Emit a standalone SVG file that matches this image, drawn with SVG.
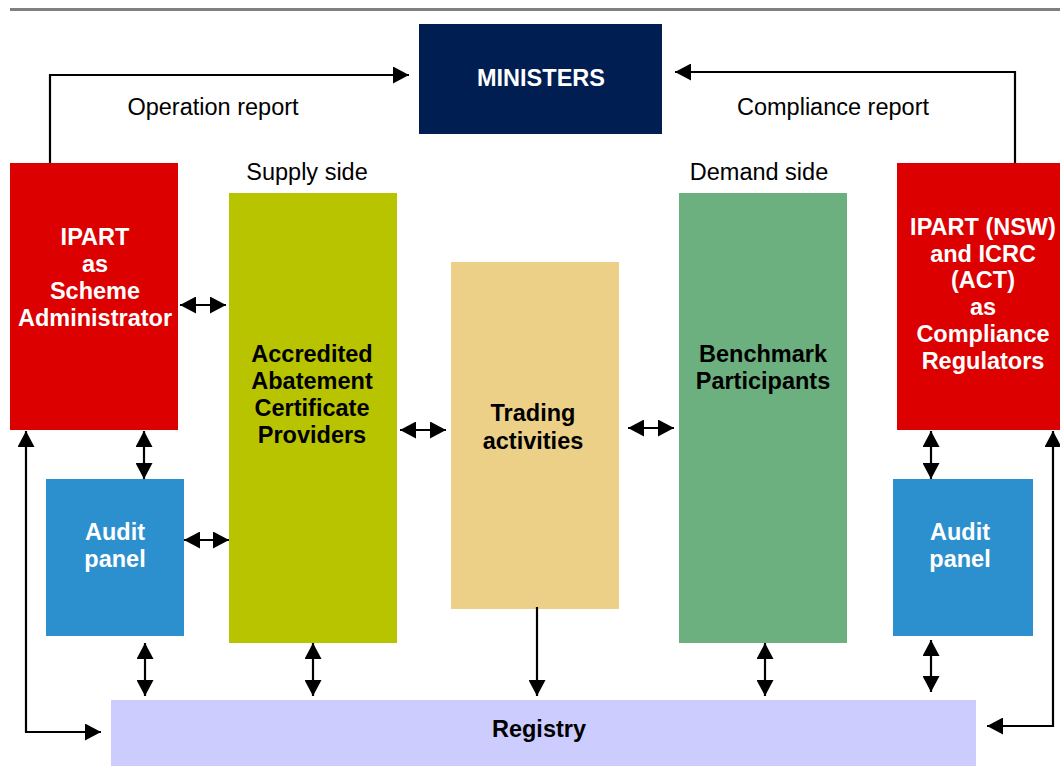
<svg xmlns="http://www.w3.org/2000/svg" width="1060" height="776" viewBox="0 0 1060 776">
  <style>
    .bold { font-family: "Liberation Sans", Arial, sans-serif; font-weight: bold; font-size: 23.5px; text-anchor: middle; }
    .plain { font-family: "Liberation Sans", Arial, sans-serif; font-size: 23.5px; text-anchor: middle; fill: #000; }
    .white { fill: #ffffff; }
    .dark { fill: #000000; }
    .conn { fill: none; stroke: #000; stroke-width: 2.2; }
  </style>
  <defs>
    <marker id="head" viewBox="0 0 16 17" markerWidth="16" markerHeight="17" refX="16" refY="8.5" markerUnits="userSpaceOnUse" orient="auto-start-reverse">
      <path d="M0,0 L16,8.5 L0,17 z" fill="#000"/>
    </marker>
  </defs>

  <rect width="1060" height="776" fill="#ffffff"/>
  <!-- header rule -->
  <line x1="10" y1="9.5" x2="1060" y2="9.5" stroke="#808080" stroke-width="3"/>

  <g id="ministers">
    <rect x="419" y="24" width="243" height="110" fill="#001E52"/>
    <text class="bold white" x="541" y="86">MINISTERS</text>
  </g>

  <g id="ipart-admin">
    <rect x="10" y="163" width="168" height="267" fill="#DC0000"/>
    <text class="bold white" x="95" y="245">IPART</text>
    <text class="bold white" x="95" y="272">as</text>
    <text class="bold white" x="95" y="299">Scheme</text>
    <text class="bold white" x="95" y="326">Administrator</text>
  </g>

  <g id="ipart-regulators">
    <rect x="897" y="163" width="172" height="267" fill="#DC0000"/>
    <text class="bold white" x="983" y="235">IPART (NSW)</text>
    <text class="bold white" x="983" y="262">and ICRC</text>
    <text class="bold white" x="983" y="288">(ACT)</text>
    <text class="bold white" x="983" y="315">as</text>
    <text class="bold white" x="983" y="342">Compliance</text>
    <text class="bold white" x="983" y="369">Regulators</text>
  </g>

  <g id="supply-side">
    <text class="plain" x="307" y="180">Supply side</text>
    <rect x="229" y="193" width="168" height="450" fill="#B8C400"/>
    <text class="bold dark" x="312" y="362">Accredited</text>
    <text class="bold dark" x="312" y="389">Abatement</text>
    <text class="bold dark" x="312" y="416">Certificate</text>
    <text class="bold dark" x="312" y="443">Providers</text>
  </g>

  <g id="trading">
    <rect x="451" y="262" width="168" height="347" fill="#EDD087"/>
    <text class="bold dark" x="533" y="421">Trading</text>
    <text class="bold dark" x="533" y="449">activities</text>
  </g>

  <g id="demand-side">
    <text class="plain" x="759" y="180">Demand side</text>
    <rect x="679" y="193" width="168" height="450" fill="#6BB07E"/>
    <text class="bold dark" x="763" y="362">Benchmark</text>
    <text class="bold dark" x="763" y="389">Participants</text>
  </g>

  <g id="audit-left">
    <rect x="46" y="479" width="138" height="157" fill="#2D90CE"/>
    <text class="bold white" x="115" y="540">Audit</text>
    <text class="bold white" x="115" y="567">panel</text>
  </g>

  <g id="audit-right">
    <rect x="893" y="479" width="140" height="157" fill="#2D90CE"/>
    <text class="bold white" x="960" y="540">Audit</text>
    <text class="bold white" x="960" y="567">panel</text>
  </g>

  <g id="registry">
    <rect x="111" y="700" width="865" height="66" fill="#CCCCFF"/>
    <text class="bold dark" x="539" y="737">Registry</text>
  </g>

  <g id="connectors">
    <!-- reports to ministers -->
    <path class="conn" d="M50,163 L50,75 L409,75" marker-end="url(#head)"/>
    <text class="plain" x="213" y="115">Operation report</text>
    <path class="conn" d="M1015,163 L1015,72 L675,72" marker-end="url(#head)"/>
    <text class="plain" x="833" y="115">Compliance report</text>

    <!-- horizontal two-way links -->
    <path class="conn" d="M180,305 L226,305" marker-start="url(#head)" marker-end="url(#head)"/>
    <path class="conn" d="M184,540 L229,540" marker-start="url(#head)" marker-end="url(#head)"/>
    <path class="conn" d="M400,430 L446,430" marker-start="url(#head)" marker-end="url(#head)"/>
    <path class="conn" d="M628,428 L674,428" marker-start="url(#head)" marker-end="url(#head)"/>

    <!-- vertical two-way links -->
    <path class="conn" d="M144,431 L144,479" marker-start="url(#head)" marker-end="url(#head)"/>
    <path class="conn" d="M145,643 L145,696" marker-start="url(#head)" marker-end="url(#head)"/>
    <path class="conn" d="M313,643 L313,696" marker-start="url(#head)" marker-end="url(#head)"/>
    <path class="conn" d="M765,643 L765,696" marker-start="url(#head)" marker-end="url(#head)"/>
    <path class="conn" d="M931,431 L931,479" marker-start="url(#head)" marker-end="url(#head)"/>
    <path class="conn" d="M931,640 L931,692" marker-start="url(#head)" marker-end="url(#head)"/>

    <!-- trading to registry -->
    <path class="conn" d="M537,607 L537,696" marker-end="url(#head)"/>

    <!-- regulator loops to registry -->
    <path class="conn" d="M26,431 L26,732 L101,732" marker-start="url(#head)" marker-end="url(#head)"/>
    <path class="conn" d="M1053,431 L1053,726 L987,726" marker-start="url(#head)" marker-end="url(#head)"/>
  </g>
</svg>
